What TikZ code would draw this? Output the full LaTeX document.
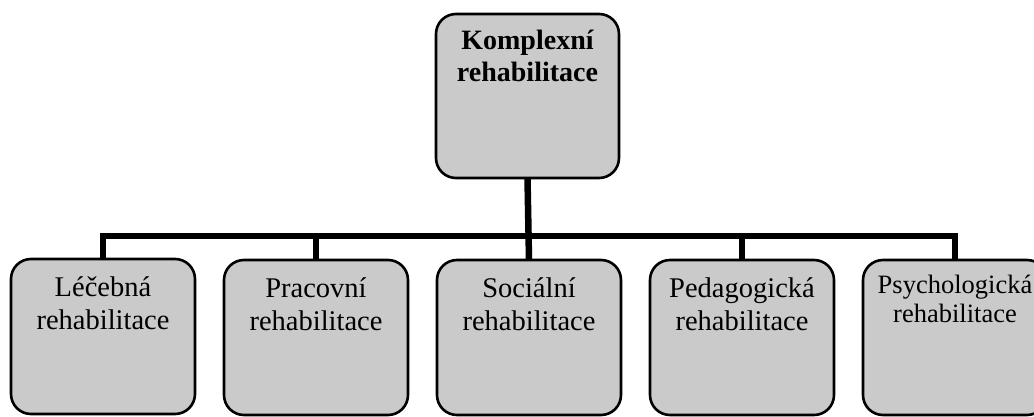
\documentclass[tikz,border=0pt]{standalone}
\usepackage{fontspec}
\setmainfont{Liberation Serif}
\definecolor{boxfill}{RGB}{202,202,202}
\tikzset{
  rbox/.style={draw=black, line width=2.6pt, fill=boxfill, rounded corners=20pt, inner sep=0pt, outer sep=0pt},
  conn/.style={draw=black, line width=6.5pt, line join=miter, line cap=butt}
}
\newcommand{\subtext}[2]{\parbox[c][155pt][t]{184pt}{\centering\fontsize{28.5pt}{33pt}\selectfont\rule{0pt}{37pt}#1\\#2}}
\begin{document}
\begin{tikzpicture}[x=1pt,y=-1pt]
\useasboundingbox (0,0) rectangle (1034,417);
\clip (0,0) rectangle (1034,417);
\fill[white] (0,0) rectangle (1034,417);
\coordinate (bar) at (0,236);
% top box
\node[rbox] (top) at (527.5,96) {\parbox[c][164pt][t]{183pt}{\centering\bfseries\fontsize{28pt}{32pt}\selectfont\rule{0pt}{36pt}Komplexní\\rehabilitace}};
% bottom boxes
\node[rbox] (b1) at (103,336.5) {\subtext{Léčebná}{rehabilitace}};
\node[rbox] (b2) at (316,337.5) {\subtext{Pracovní}{rehabilitace}};
\node[rbox] (b3) at (529,337.5) {\subtext{Sociální}{rehabilitace}};
\node[rbox] (b4) at (742,337.5) {\subtext{Pedagogická}{rehabilitace}};
\node[rbox] (b5) at (955,337.5) {\parbox[c][155pt][t]{184pt}{\centering\fontsize{26.5pt}{29pt}\selectfont\rule{0pt}{33pt}Psychologická\\rehabilitace}};
% connectors
\draw[conn] (b1.north) -- (b1.north |- bar) -- (b5.north |- bar) -- (b5.north);
\draw[conn] (b2.north) -- (b2.north |- bar);
\draw[conn] (b4.north) -- (b4.north |- bar);
\draw[conn] (top.south) -- (b3.north);
\end{tikzpicture}
\end{document}
